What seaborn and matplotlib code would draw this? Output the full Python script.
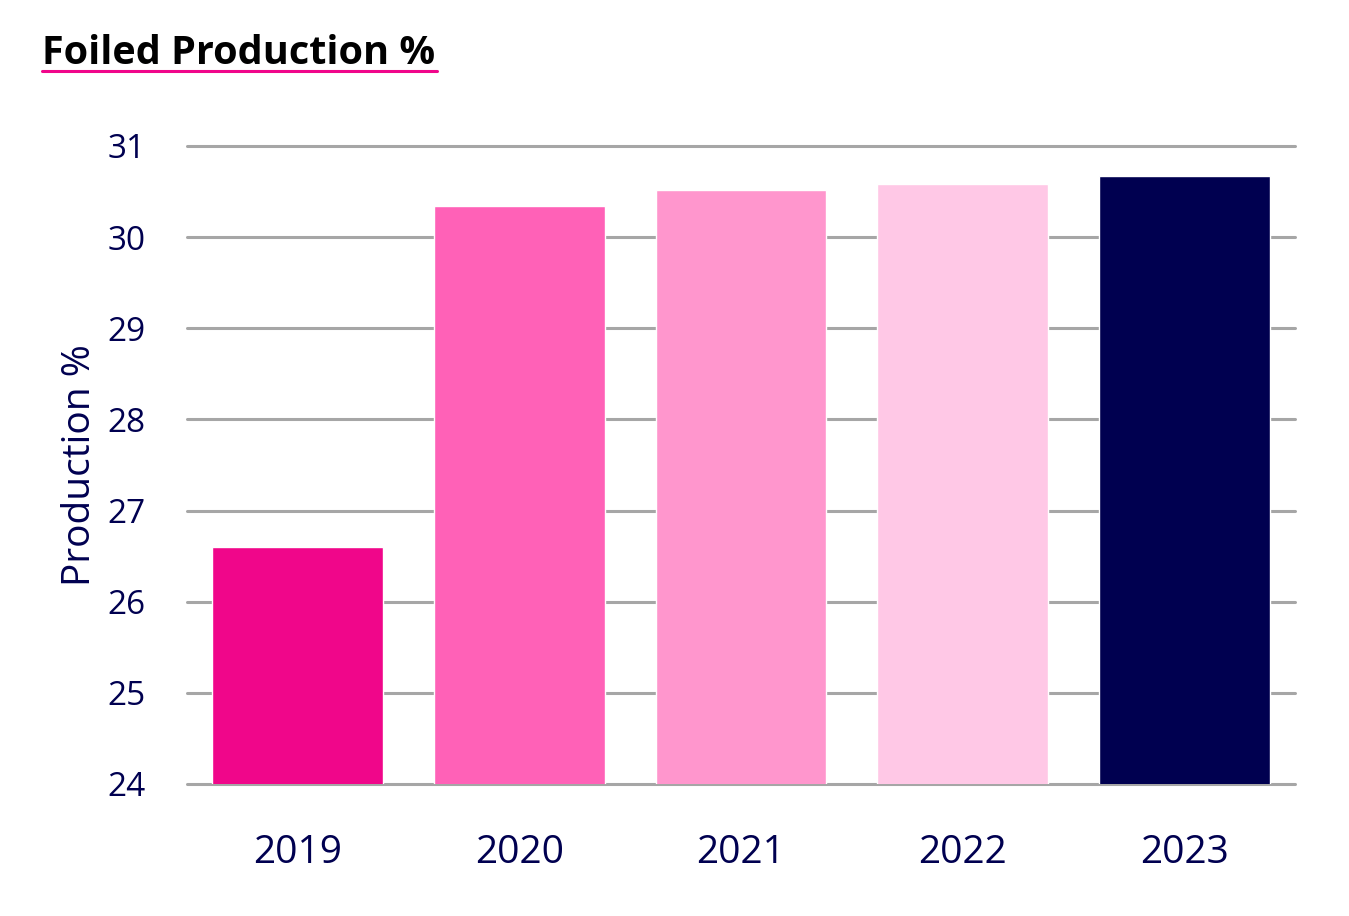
import pandas as pd
import matplotlib.pyplot as plt
import seaborn as sns
from matplotlib.lines import Line2D

# Data
years = ['2019', '2020', '2021', '2022', '2023']
production_pct = [26.6, 30.34, 30.52, 30.58, 30.67]
bar_colors = ['#F0068A', '#FF61B7', '#FF96CD', '#FFC8E6', '#000050']
y_ticks = [24, 25, 26, 27, 28, 29, 30, 31]

navy = '#000050'
grid_gray = '#A6A6A6'

sns.set_style('white')
plt.rcParams['font.family'] = ['Open Sans', 'DejaVu Sans']

df = pd.DataFrame({'Year': years, 'Production': production_pct})

fig = plt.figure(figsize=(13.49, 9.16), dpi=100)
ax = fig.add_axes([187 / 1349, 1 - 784 / 916, (1295 - 187) / 1349, (784 - 146) / 916])

sns.barplot(data=df, x='Year', y='Production', hue='Year', palette=bar_colors,
            width=0.77, legend=False, ax=ax, zorder=3, saturation=1)

ax.set_ylim(24, 31)
ax.set_yticks(y_ticks)
ax.set_xlim(-0.5, 4.5)
ax.yaxis.grid(True, color=grid_gray, linewidth=2.2, zorder=0)
ax.set_axisbelow(True)
for gl in ax.get_ygridlines():
    gl.set_clip_on(False)
for s in ax.spines.values():
    s.set_visible(False)

ax.tick_params(axis='y', length=0, pad=30, labelsize=24, labelcolor=navy)
ax.tick_params(axis='x', length=0, pad=36, labelsize=28, labelcolor=navy)
ax.set_xlabel('')
ax.set_ylabel('Production %', fontsize=28, color=navy, labelpad=6)

# Title with pink underline
fig.text(42 / 1349, 1 - 53 / 916, 'Foiled Production %', fontsize=28.5, fontweight='bold',
         color='black', ha='left', va='center')
fig.add_artist(Line2D([42 / 1349, 437 / 1349], [1 - 71 / 916, 1 - 71 / 916],
                      color='#F0068A', linewidth=2.2))

plt.savefig('out.png', dpi=100)
